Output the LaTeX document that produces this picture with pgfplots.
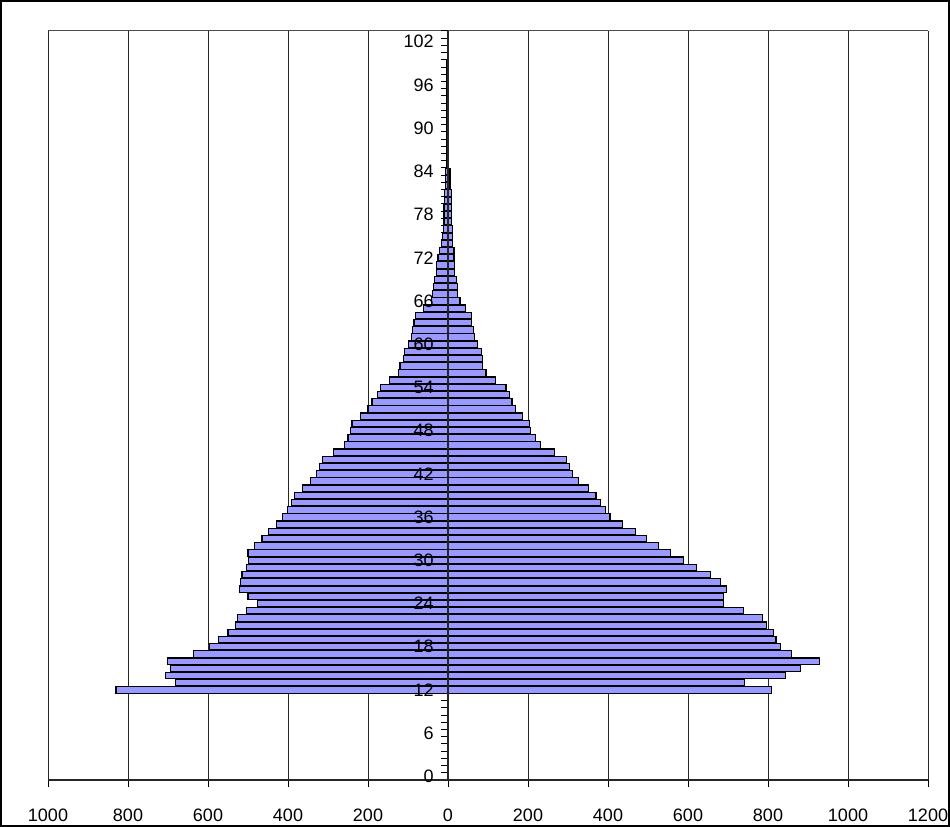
\documentclass[border=0pt]{standalone}
\usepackage{fontspec}
\setmainfont{Liberation Sans}
\usepackage{pgfplots}
\usepackage{pgfplotstable}
\pgfplotsset{compat=1.18}
\definecolor{barfill}{HTML}{9999FF}
\pgfplotsset{
  layers/barsfirst/.define layer set={
    axis background,axis grid,main,axis ticks,axis lines,axis tick labels,axis descriptions,axis foreground
  }{/pgfplots/layers/standard},
}
\pgfplotstableread{
age left right
12 -830 809
13 -682 742
14 -706 844
15 -694 882
16 -701 929
17 -636 859
18 -597 832
19 -573 820
20 -550 813
21 -531 797
22 -527 786
23 -503 738
24 -477 688
25 -500 688
26 -522 696
27 -519 682
28 -515 657
29 -503 622
30 -498 588
31 -500 557
32 -483 526
33 -465 496
34 -449 468
35 -429 437
36 -414 405
37 -402 393
38 -391 382
39 -383 370
40 -363 351
41 -344 327
42 -328 312
43 -321 304
44 -313 297
45 -286 266
46 -258 231
47 -250 219
48 -244 207
49 -240 203
50 -219 187
51 -200 168
52 -190 160
53 -177 153
54 -169 145
55 -147 118
56 -123 95
57 -120 87
58 -111 87
59 -108 83
60 -99 74
61 -92 67
62 -88 63
63 -85 59
64 -81 59
65 -62 44
66 -42 30
67 -39 24
68 -37 24
69 -33 22
70 -28 17
71 -28 17
72 -25 15
73 -22 15
74 -17 12
75 -14 12
76 -12 12
77 -10 9
78 -10 9
79 -10 9
80 -8 9
81 -8 9
82 -6 5
83 -6 5
84 -6 5
85 -3 2
86 -3 2
87 -3 2
88 -3 2
89 -3 2
90 -3 2
91 -3 2
92 -3 2
93 -3 2
94 -3 2
95 -3 2
96 -3 2
97 -3 2
98 -3 2
99 -3 2
}\pyramid
\begin{document}
\begin{tikzpicture}
\begin{axis}[
  set layers=barsfirst,
  at={(0,0)}, anchor=south west,
  scale only axis, width=440bp, height=374.5bp,
  xmin=-1000, xmax=1200, ymin=-0.5, ymax=103.5,
  axis x line=bottom, axis y line=middle,
  axis line style={-, line width=0.9bp, black!85},
  xtick={-1000,-800,...,1200},
  xticklabels={1000,800,600,400,200,0,200,400,600,800,1000,1200},
  xmajorgrids, grid style={black!85, line width=0.5bp},
  ytick={-0.5,0.5,...,103.5},
  yticklabels={},
  extra y ticks={0,6,...,102},
  extra y tick style={major tick length=0pt},
  /pgf/number format/assume math mode=true,
  tick align=outside,
  major tick length=3.5bp,
  tick style={black, line width=0.5bp},
  ticklabel style={font=\fontsize{9bp}{11bp}\selectfont, inner sep=0pt},
  xticklabel style={anchor=base, yshift=-17bp},
  yticklabel style={anchor=east, xshift=-7bp},
  clip=false,
]
\draw[black!70, line width=0.5bp] (rel axis cs:0,1) -- (rel axis cs:1,1);
\addplot[xbar, bar width=0.9, bar shift=0pt, fill=barfill, draw=black, line width=0.6bp] table[x=left, y=age]{\pyramid};
\addplot[xbar, bar width=0.9, bar shift=0pt, fill=barfill, draw=black, line width=0.6bp] table[x=right, y=age]{\pyramid};
\end{axis}
\draw[line width=1bp] (-23.5bp,-23bp) rectangle (450.5bp,389.5bp);
\pgfresetboundingbox
\path[use as bounding box] (-24bp,-23.5bp) rectangle (451bp,390bp);
\end{tikzpicture}
\end{document}
